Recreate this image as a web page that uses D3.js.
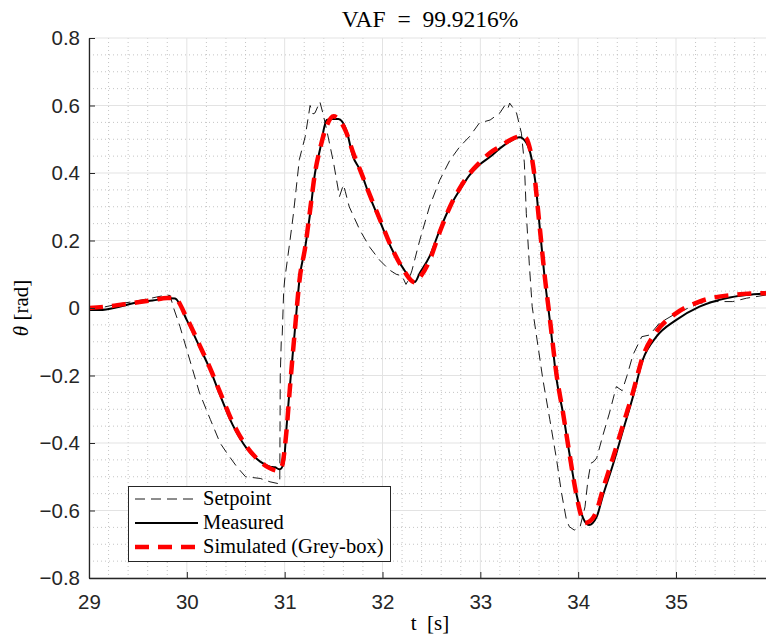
<!DOCTYPE html>
<html>
<head>
<meta charset="utf-8">
<script src="https://cdn.jsdelivr.net/npm/d3@7"></script>
<style>
  html, body { margin: 0; padding: 0; background: #fff; }
  svg { display: block; }
</style>
</head>
<body>
<svg id="chart" width="766" height="643"></svg>
<script>
// Time axis ticks and angle axis ticks
const xTicks = [29, 30, 31, 32, 33, 34, 35];
const yTicks = [-0.8, -0.6, -0.4, -0.2, 0, 0.2, 0.4, 0.6, 0.8];

// Setpoint trajectory [s], [rad]
const setT = [29.0, 29.11, 29.3, 29.45, 29.65, 29.79, 29.83, 29.86, 29.93, 30.03, 30.13, 30.24, 30.34, 30.41, 30.51,
  30.6, 30.75, 30.85, 30.93, 30.95, 30.955, 30.965, 30.975, 30.99, 31.0, 31.05, 31.09, 31.15, 31.21, 31.26,
  31.29, 31.31, 31.36, 31.39, 31.43, 31.5, 31.56, 31.6, 31.62, 31.66, 31.77, 31.87, 31.97, 32.07, 32.14,
  32.2, 32.24, 32.27, 32.3, 32.38, 32.48, 32.585, 32.69, 32.79, 32.89, 32.99, 33.1, 33.2, 33.25, 33.28,
  33.3, 33.37, 33.42, 33.45, 33.47, 33.5, 33.53, 33.64, 33.71, 33.78, 33.83, 33.88, 33.91, 33.96, 34.02,
  34.07, 34.1, 34.13, 34.16, 34.19, 34.25, 34.32, 34.39, 34.45, 34.5, 34.56, 34.65, 34.73, 34.83, 35.0,
  35.24, 35.41, 35.58, 35.72, 35.92];
const setV = [-0.003, 0.0, 0.012, 0.019, 0.03, 0.0385, 0.037, 0.004, -0.055, -0.154, -0.252, -0.33, -0.40, -0.43, -0.47,
  -0.5, -0.505, -0.515, -0.52, -0.52, -0.2, -0.1, -0.08, 0.05, 0.083, 0.19, 0.28, 0.44, 0.508, 0.60,
  0.575, 0.578, 0.611, 0.578, 0.527, 0.43, 0.33, 0.365, 0.345, 0.30, 0.23, 0.18, 0.142, 0.113, 0.10,
  0.095, 0.07, 0.085, 0.11, 0.20, 0.30, 0.379, 0.4385, 0.478, 0.508, 0.548, 0.557, 0.578, 0.60, 0.59,
  0.607, 0.578, 0.518, 0.43, 0.28, 0.133, 0.004, -0.213, -0.33, -0.45, -0.548, -0.628, -0.648, -0.658, -0.648,
  -0.589, -0.51, -0.46, -0.455, -0.444, -0.38, -0.311, -0.233, -0.245, -0.2, -0.139, -0.085, -0.08, -0.045, -0.016,
  0.014, 0.019, 0.019, 0.029, 0.0385];

// Measured response
const measT = [29.0, 29.11, 29.3, 29.45, 29.65, 29.83, 29.88, 30.0, 30.13, 30.24, 30.34, 30.47, 30.61, 30.75, 30.85,
  30.9, 30.95, 30.99, 31.02, 31.05, 31.1, 31.155, 31.21, 31.26, 31.31, 31.36, 31.43, 31.49, 31.55, 31.63,
  31.70, 31.77, 31.87, 31.97, 32.1, 32.21, 32.3, 32.33, 32.38, 32.48, 32.585, 32.69, 32.79, 32.89, 32.99,
  33.1, 33.2, 33.3, 33.4, 33.47, 33.52, 33.56, 33.61, 33.66, 33.71, 33.78, 33.845, 33.91, 33.98, 34.05,
  34.11, 34.19, 34.25, 34.36, 34.46, 34.56, 34.66, 34.80, 35.0, 35.24, 35.51, 35.72, 35.92];
const measV = [-0.006, -0.006, 0.003, 0.014, 0.022, 0.029, 0.028, -0.036, -0.115, -0.184, -0.258, -0.347, -0.415, -0.455, -0.47,
  -0.472, -0.478, -0.46, -0.35, -0.243, -0.08, 0.093, 0.18, 0.28, 0.40, 0.468, 0.557, 0.56, 0.56, 0.527,
  0.448, 0.409, 0.33, 0.26, 0.172, 0.118, 0.083, 0.077, 0.103, 0.152, 0.231, 0.30, 0.35, 0.394, 0.424,
  0.448, 0.473, 0.493, 0.506, 0.49, 0.448, 0.379, 0.231, 0.083, -0.036, -0.213, -0.311, -0.43, -0.548, -0.622,
  -0.643, -0.618, -0.559, -0.46, -0.361, -0.263, -0.154, -0.085, -0.036, 0.004, 0.029, 0.0385, 0.0435];

// Grey-box model simulation
const simT = [29.0, 29.2, 29.45, 29.65, 29.8, 29.87, 30.0, 30.13, 30.24, 30.34, 30.47, 30.61, 30.75, 30.85, 30.93,
  30.97, 31.02, 31.05, 31.1, 31.155, 31.21, 31.26, 31.31, 31.36, 31.43, 31.5, 31.55, 31.63, 31.70, 31.77,
  31.87, 31.97, 32.1, 32.21, 32.3, 32.33, 32.38, 32.48, 32.585, 32.69, 32.79, 32.89, 32.99, 33.1, 33.2,
  33.3, 33.4, 33.46, 33.5, 33.55, 33.6, 33.66, 33.71, 33.78, 33.845, 33.91, 33.98, 34.03, 34.07, 34.1,
  34.19, 34.25, 34.36, 34.46, 34.56, 34.66, 34.80, 35.0, 35.24, 35.57, 35.92];
const simV = [0.0, 0.005, 0.015, 0.023, 0.03, 0.03, -0.03, -0.11, -0.18, -0.25, -0.34, -0.41, -0.455, -0.475, -0.482,
  -0.47, -0.36, -0.25, -0.08, 0.09, 0.18, 0.29, 0.40, 0.47, 0.54, 0.568, 0.56, 0.52, 0.46, 0.41,
  0.335, 0.265, 0.175, 0.115, 0.08, 0.076, 0.09, 0.14, 0.225, 0.30, 0.355, 0.398, 0.43, 0.46, 0.478,
  0.497, 0.508, 0.505, 0.48, 0.40, 0.26, 0.09, -0.03, -0.2, -0.31, -0.43, -0.55, -0.615, -0.637, -0.635,
  -0.6, -0.54, -0.44, -0.345, -0.25, -0.145, -0.07, -0.016, 0.019, 0.0385, 0.044];

const seriesNames = ["Setpoint", "Measured", "Simulated (Grey-box)"];

const svg = d3.select("#chart");
const plotLeft = 89, plotRight = 766, plotTop = 38, plotBottom = 578;

const x = d3.scaleLinear().domain([29, 35.92]).range([plotLeft, plotRight]);
const y = d3.scaleLinear().domain([-0.8, 0.8]).range([plotBottom, plotTop]);

svg.append("defs").append("clipPath").attr("id", "plotClip")
  .append("rect").attr("x", plotLeft).attr("y", plotTop)
  .attr("width", plotRight - plotLeft).attr("height", plotBottom - plotTop);

// Minor grid (dotted)
const minorX = d3.range(29, 35.92, 0.2).filter(v => Math.abs(v - Math.round(v)) > 1e-6);
const minorY = d3.range(-0.8, 0.8001, 0.05).filter(v => Math.abs(v * 5 - Math.round(v * 5)) > 1e-6);
const grid = svg.append("g");
grid.selectAll(".mx").data(minorX).join("line")
  .attr("x1", d => x(d)).attr("x2", d => x(d)).attr("y1", plotTop).attr("y2", plotBottom)
  .attr("stroke", "#c4c4c4").attr("stroke-width", 1).attr("stroke-dasharray", "1,3");
grid.selectAll(".my").data(minorY).join("line")
  .attr("y1", d => y(d)).attr("y2", d => y(d)).attr("x1", plotLeft).attr("x2", plotRight)
  .attr("stroke", "#c4c4c4").attr("stroke-width", 1).attr("stroke-dasharray", "1,3");

// Major grid
grid.selectAll(".gx").data(xTicks).join("line")
  .attr("x1", d => x(d)).attr("x2", d => x(d)).attr("y1", plotTop).attr("y2", plotBottom)
  .attr("stroke", "#e3e3e3").attr("stroke-width", 1);
grid.selectAll(".gy").data(yTicks).join("line")
  .attr("y1", d => y(d)).attr("y2", d => y(d)).attr("x1", plotLeft).attr("x2", plotRight)
  .attr("stroke", "#e3e3e3").attr("stroke-width", 1);

// Curves
const plot = svg.append("g").attr("clip-path", "url(#plotClip)");
const zip = (ts, vs) => ts.map((t, i) => [t, vs[i]]);

const lineLin = d3.line().x(d => x(d[0])).y(d => y(d[1])).curve(d3.curveLinear);
const lineSmooth = d3.line().x(d => x(d[0])).y(d => y(d[1])).curve(d3.curveMonotoneX);

plot.append("path").datum(zip(setT, setV)).attr("d", lineLin)
  .attr("fill", "none").attr("stroke", "#000").attr("stroke-width", 0.9)
  .attr("stroke-dasharray", "10,6");

plot.append("path").datum(zip(measT, measV)).attr("d", lineSmooth)
  .attr("fill", "none").attr("stroke", "#000").attr("stroke-width", 2);

plot.append("path").datum(zip(simT, simV)).attr("d", lineSmooth)
  .attr("fill", "none").attr("stroke", "#ff0000").attr("stroke-width", 4.5)
  .attr("stroke-dasharray", "14,9");

// Axes
const xAxis = d3.axisBottom(x).tickValues(xTicks).tickSizeInner(-6).tickSizeOuter(0).tickPadding(16)
  .tickFormat(d3.format("d"));
const yAxis = d3.axisLeft(y).tickValues(yTicks).tickSizeInner(-6).tickSizeOuter(0).tickPadding(9)
  .tickFormat(d => d === 0 ? "0" : d3.format(".1f")(d));

const gx = svg.append("g").attr("transform", `translate(0,${plotBottom})`).call(xAxis);
const gy = svg.append("g").attr("transform", `translate(${plotLeft},0)`).call(yAxis);
[gx, gy].forEach(g => {
  g.select(".domain").attr("stroke", "#262626").attr("stroke-width", 1.3);
  g.selectAll(".tick line").attr("stroke", "#262626").attr("stroke-width", 1);
  g.selectAll(".tick text").attr("fill", "#262626")
    .style("font-family", "'Liberation Sans', Arial, sans-serif").style("font-size", "20.5px");
});

// Title and labels
const serif = "'Liberation Serif', 'Times New Roman', serif";
svg.append("text").attr("x", 430).attr("y", 27).attr("text-anchor", "middle")
  .style("font-family", serif).style("font-size", "23.5px").attr("fill", "#000")
  .attr("xml:space", "preserve").style("white-space", "pre")
  .text("VAF  =  99.9216%");

svg.append("text").attr("x", 430).attr("y", 630).attr("text-anchor", "middle")
  .style("font-family", serif).style("font-size", "21px").attr("fill", "#000")
  .attr("xml:space", "preserve").style("white-space", "pre")
  .text("t  [s]");

const yl = svg.append("text").attr("transform", "translate(28,308) rotate(-90)").attr("text-anchor", "middle")
  .style("font-family", serif).style("font-size", "21px").attr("fill", "#000");
yl.append("tspan").style("font-style", "italic").text("θ");
yl.append("tspan").text(" [rad]");

// Legend
const lg = svg.append("g");
lg.append("rect").attr("x", 128.5).attr("y", 486.5).attr("width", 262).attr("height", 75)
  .attr("fill", "#fff").attr("stroke", "#262626").attr("stroke-width", 1);
const legendStyles = [
  { color: "#000", width: 0.9, dash: "10,6" },
  { color: "#000", width: 2, dash: null },
  { color: "#ff0000", width: 4.5, dash: "14,9" }
];
const rowY = [499, 523, 547];
seriesNames.forEach((name, i) => {
  const s = legendStyles[i];
  lg.append("line").attr("x1", 135).attr("x2", 198).attr("y1", rowY[i]).attr("y2", rowY[i])
    .attr("stroke", s.color).attr("stroke-width", s.width)
    .attr("stroke-dasharray", s.dash);
  lg.append("text").attr("x", 203).attr("y", rowY[i] + 6)
    .style("font-family", serif).style("font-size", "20.5px").attr("fill", "#000")
    .text(name);
});
</script>
</body>
</html>
